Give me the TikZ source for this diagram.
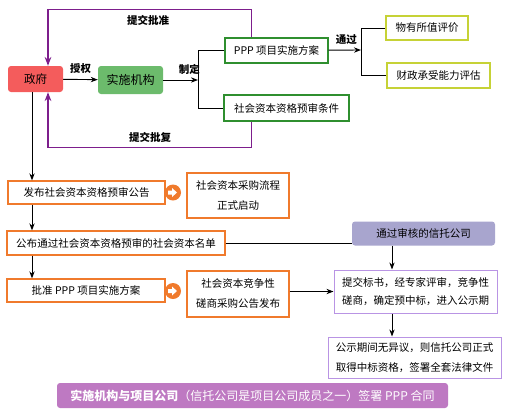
\documentclass[tikz,border=0pt]{standalone}
\usepackage{fontspec}
\setmainfont{Noto Sans CJK SC}
\usepackage{xcolor}
\usetikzlibrary{arrows.meta,positioning,calc}

\definecolor{govred}{HTML}{F45C5C}
\definecolor{orggreen}{HTML}{6CBB6C}
\definecolor{planline}{HTML}{2F8F2F}
\definecolor{limeline}{HTML}{C6D236}
\definecolor{orangeline}{HTML}{F07A2C}
\definecolor{trustfill}{HTML}{A8A5CE}
\definecolor{bidline}{HTML}{B994E4}
\definecolor{retline}{HTML}{7D1E8C}
\definecolor{signfill}{HTML}{BE79C2}

\begin{document}
\begin{tikzpicture}[
  x=1pt, y=-1pt,
  >=Stealth,
  every node/.style={font=\fontsize{10.5}{20}\selectfont},
  box/.style={draw, line width=1.2pt, align=center, inner sep=0pt},
  solid/.style={rounded corners=3pt, align=center, inner sep=0pt},
  greenbox/.style={box, draw=planline},
  limebox/.style={box, draw=limeline},
  orangebox/.style={box, draw=orangeline},
  violetbox/.style={box, draw=bidline, line width=1pt},
  lbl/.style={font=\bfseries\fontsize{10.5}{12}\selectfont},
  arr/.style={->, line width=0.9pt},
  ret/.style={->, line width=1.3pt, draw=retline},
  goicon/.style={circle, fill=orangeline, minimum size=16pt, inner sep=0pt}
]
\useasboundingbox (0,0) rectangle (510,416);

%--------------------------------------------------
% top: government and implementing agency
%--------------------------------------------------
\node[solid, fill=govred, minimum width=55pt, minimum height=26pt,
      font=\fontsize{11.5}{13}\selectfont] (gov) at (35.5,79) {政府};
\node[solid, fill=orggreen, minimum width=65pt, minimum height=28pt,
      font=\fontsize{12}{13}\selectfont] (org) at (130.5,80) {实施机构};

\node[greenbox, minimum width=103pt, minimum height=25pt] (plan) at (276.5,50.5) {PPP 项目实施方案};
\node[greenbox, minimum width=125pt, minimum height=26pt] (cond) at (286.5,108) {社会资本资格预审条件};

\node[limebox, minimum width=82pt, minimum height=24pt] (vfm) at (427,28) {物有所值评价};
\node[limebox, minimum width=103pt, minimum height=25pt] (afford) at (438.5,75.5) {财政承受能力评估};

\coordinate (j1) at (198,80);
\coordinate (j2) at (361,50);

\draw[arr] (gov) -- node[lbl, above=2pt] {授权} (org);
\draw[arr] (org) -- node[lbl, above=2pt, pos=0.75] {制定} (j1);
\draw[line width=0.9pt] (j1) |- (plan.west);
\draw[line width=0.9pt] (j1) |- (cond.west);

\draw[arr] (plan) -- node[lbl, above=2pt, pos=0.55] {通过} (j2);
\draw[line width=0.9pt] (j2) |- (vfm.west);
\draw[line width=0.9pt] (j2) |- (afford.west);

% return paths to government
\draw[ret] ([xshift=27pt]plan.north west) -- ++(0,-28) -| ([xshift=12.5pt]gov.north);
\draw[ret] ([xshift=28pt]cond.south west) -- ++(0,26) -| ([xshift=12.5pt]gov.south);
\node[lbl] (approveup) at (148,20) {提交批准};
\node[lbl] (replyup) at (150,137) {提交批复};

%--------------------------------------------------
% left column: procurement steps
%--------------------------------------------------
\node[orangebox, minimum width=157pt, minimum height=23pt] (notice) at (86.5,192.5) {发布社会资本资格预审公告};
\node[orangebox, minimum width=102pt, minimum height=45pt] (start) at (238,195.5) {社会资本采购流程\\正式启动};

\node[orangebox, minimum width=218pt, minimum height=24pt] (list) at (116,243) {公布通过社会资本资格预审的社会资本名单};

\node[orangebox, minimum width=158pt, minimum height=23pt] (approve) at (86,290.5) {批准 PPP 项目实施方案};
\node[orangebox, minimum width=102pt, minimum height=46pt] (consult) at (238,294) {社会资本竞争性\\磋商采购公告发布};

\node[goicon] (go1) at (173,192.5) {};
\node[goicon] (go2) at (173,291) {};
\fill[white] ([shift={(-5,-2)}]go1.center) -- ++(4,0) -- ++(0,-2.5) -- ++(5,4.5) -- ++(-5,4.5) -- ++(0,-2.5) -- ++(-4,0) -- cycle;
\fill[white] ([shift={(-5,-2)}]go2.center) -- ++(4,0) -- ++(0,-2.5) -- ++(5,4.5) -- ++(-5,4.5) -- ++(0,-2.5) -- ++(-4,0) -- cycle;

\coordinate (trunk) at (32,0);
\draw[arr] (trunk |- gov.south) -- (trunk |- notice.north);
\draw[arr] (trunk |- notice.south) -- (trunk |- list.north);
\draw[arr] (trunk |- list.south) -- (approve.north -| trunk);

%--------------------------------------------------
% right column: trust company
%--------------------------------------------------
\node[solid, fill=trustfill, minimum width=143pt, minimum height=24pt] (trust) at (423.5,233.5) {通过审核的信托公司};
\node[violetbox, minimum width=163pt, minimum height=43pt, font=\fontsize{10.5}{18}\selectfont] (bid) at (415.5,291.5)
  {提交标书，经专家评审，竞争性\\磋商，确定预中标，进入公示期};
\node[violetbox, minimum width=173pt, minimum height=41pt] (award) at (414.5,357.5)
  {公示期间无异议，则信托公司正式\\取得中标资格，签署全套法律文件};

\draw[line width=0.9pt] (list.east) -- (list.east -| trust.west);
\coordinate (spine) at (392,0);
\draw[arr] (spine |- trust.south) -- (spine |- bid.north);
\draw[arr] (spine |- bid.south) -- (spine |- award.north);
\draw[arr] (consult.east |- bid.west) -- (bid.west);

%--------------------------------------------------
% bottom: contract banner
%--------------------------------------------------
\node[solid, fill=signfill, text=white, minimum width=391pt, minimum height=25pt,
      font=\fontsize{12}{13}\selectfont] (sign) at (252.5,395.5)
  {\textbf{实施机构与项目公司}（信托公司是项目公司成员之一）签署 PPP 合同};

\end{tikzpicture}
\end{document}
